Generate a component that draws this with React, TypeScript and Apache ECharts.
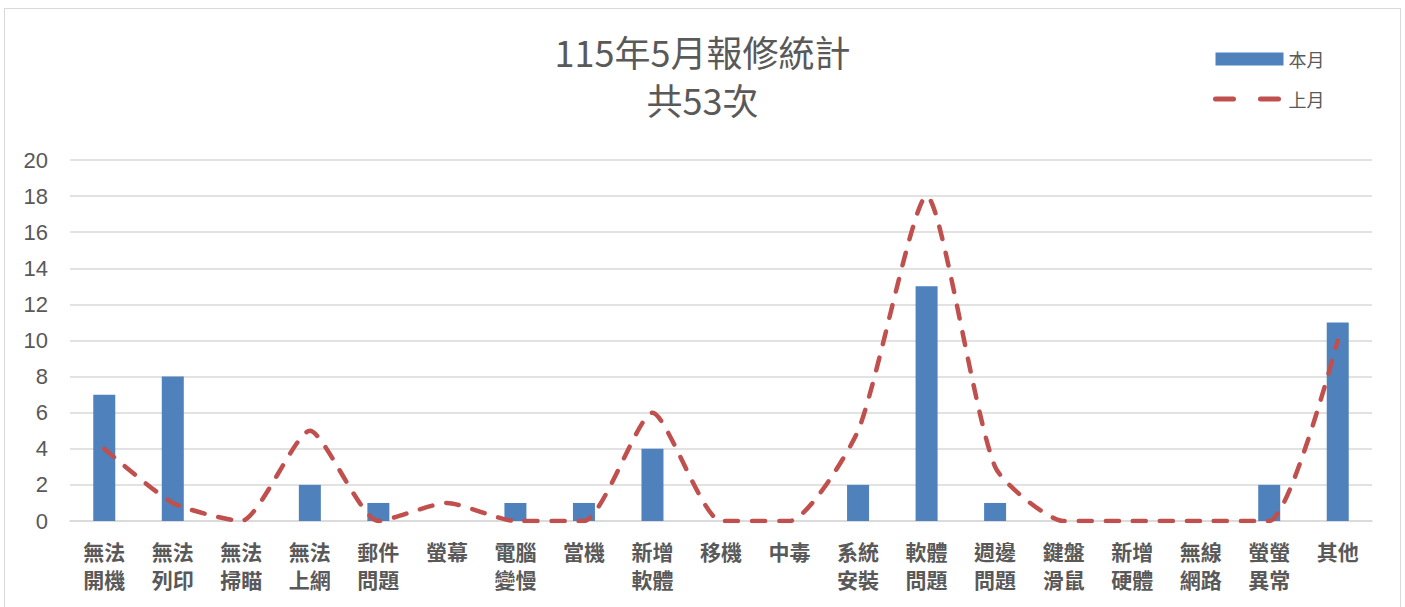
import React, { useEffect, useRef } from "react";
import * as echarts from "echarts";

// Repair categories (two characters per label line)
const categories = [
  "無法開機", "無法列印", "無法掃瞄", "無法上網", "郵件問題", "螢幕", "電腦變慢",
  "當機", "新增軟體", "移機", "中毒", "系統安裝", "軟體問題", "週邊問題",
  "鍵盤滑鼠", "新增硬體", "無線網路", "螢螢異常", "其他",
];

// This month's repair counts (bars)
const thisMonth = [7, 8, 0, 2, 1, 0, 1, 1, 4, 0, 0, 2, 13, 1, 0, 0, 0, 2, 11];

// Last month's repair counts (dashed line)
const lastMonth = [4, 1, 0, 5, 0, 1, 0, 0, 6, 0, 0, 5, 18, 3, 0, 0, 0, 0, 10];

const yTicks = { min: 0, max: 20, interval: 2 };

const titleLines = ["115年5月報修統計", "共53次"];
const seriesNames = ["本月", "上月"];

const GREY = "#595959";
const RED = "#C0504D";
const CJK = "'Noto Sans CJK TC', 'Noto Sans CJK SC', sans-serif";

export default function App() {
  const ref = useRef<HTMLDivElement>(null);

  useEffect(() => {
    if (!ref.current) return;
    const chart = echarts.init(ref.current, undefined, { renderer: "svg" });
    chart.setOption({
      animation: false,
      backgroundColor: "#ffffff",
      title: {
        text: titleLines.join("\n"),
        left: "center",
        top: 13,
        textStyle: {
          fontFamily: "'Liberation Sans Narrow', " + CJK,
          fontSize: 36,
          fontWeight: "normal",
          color: GREY,
          lineHeight: 48,
        },
      },
      legend: {
        orient: "vertical",
        left: 1203,
        top: 36,
        itemWidth: 68,
        itemHeight: 13,
        itemGap: 22,
        textStyle: { fontFamily: CJK, fontSize: 18, color: GREY },
        data: [
          { name: seriesNames[0], icon: "rect" },
          {
            name: seriesNames[1],
            itemStyle: { opacity: 0 },
            lineStyle: { color: RED, width: 5, type: [18, 27], cap: "round" },
          },
        ],
      },
      grid: { left: 65, top: 151, width: 1302, height: 361 },
      xAxis: {
        type: "category",
        data: categories,
        axisLine: { lineStyle: { color: "#D9D9D9", width: 1.5 } },
        axisTick: { show: false },
        axisLabel: {
          interval: 0,
          margin: 16,
          color: GREY,
          fontFamily: CJK,
          fontWeight: "bold",
          fontSize: 21,
          lineHeight: 28,
          formatter: (v: string) =>
            v.length > 2 ? v.slice(0, 2) + "\n" + v.slice(2) : v,
        },
      },
      yAxis: {
        type: "value",
        min: yTicks.min,
        max: yTicks.max,
        interval: yTicks.interval,
        axisLine: { show: false },
        axisTick: { show: false },
        axisLabel: {
          margin: 22,
          color: GREY,
          fontFamily: "'Liberation Sans', Arial, sans-serif",
          fontSize: 22,
        },
        splitLine: { lineStyle: { color: "#D9D9D9", width: 1.5 } },
      },
      series: [
        {
          name: seriesNames[0],
          type: "bar",
          data: thisMonth,
          barWidth: 22,
          itemStyle: { color: "#4F81BD" },
        },
        {
          name: seriesNames[1],
          type: "line",
          data: lastMonth,
          smooth: 0.2,
          symbol: "none",
          itemStyle: { color: RED },
          lineStyle: {
            color: RED,
            width: 4.5,
            type: [13, 14],
            cap: "round",
          },
        },
      ],
    });
    return () => chart.dispose();
  }, []);

  return (
    <div
      style={{
        position: "fixed",
        left: 4,
        top: 8,
        border: "1.5px solid #D9D9D9",
        background: "#fff",
      }}
    >
      <div ref={ref} style={{ width: 1395, height: 640 }} />
    </div>
  );
}
